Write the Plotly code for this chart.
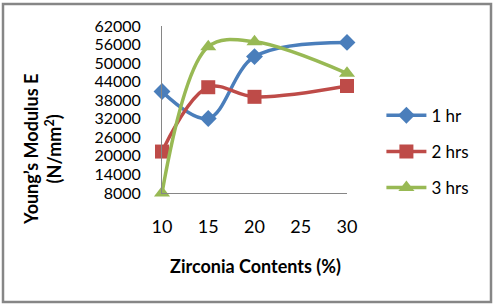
import plotly.graph_objects as go

zirconia = [10, 15, 20, 30]
hr1 = [40800, 32100, 52100, 56700]
hrs2 = [21400, 42200, 39100, 42600]
hrs3 = [8000, 55300, 56900, 46700]
series_names = ["1 hr", "2 hrs", "3 hrs"]
x_ticks = [10, 15, 20, 25, 30]
y_ticks = [8000, 14000, 20000, 26000, 32000, 38000, 44000, 50000, 56000, 62000]

colors = ["#4A7EBB", "#BE4B48", "#98B954"]
symbols = ["diamond", "square", "triangle-up"]
sizes = [13, 14, 14]
FONT = "Lato, 'Open Sans', sans-serif"
FS = 18

fig = go.Figure()
for i, (name, vals) in enumerate(zip(series_names, [hr1, hrs2, hrs3])):
    fig.add_trace(go.Scatter(
        x=zirconia, y=vals, name=name, mode="lines+markers",
        line=dict(color=colors[i], width=3.5, shape="spline", smoothing=1.0),
        marker=dict(symbol=symbols[i], size=sizes[i], color=colors[i]),
        cliponaxis=False, legendgroup=name,
    ))

fig.update_layout(
    width=495, height=306, autosize=False,
    margin=dict(l=162, r=148, t=26, b=113),
    paper_bgcolor="white", plot_bgcolor="white",
    font=dict(family=FONT, size=FS, color="black"),
    showlegend=True,
    legend=dict(x=1.186, y=0.247, xanchor="left", yanchor="middle",
                font=dict(family=FONT, size=17), tracegroupgap=11,
                bgcolor="rgba(0,0,0,0)", itemwidth=40, borderwidth=0),
    xaxis=dict(range=[10, 30], tickvals=x_ticks, ticktext=[str(v) for v in x_ticks],
               showgrid=False, zeroline=False, showline=True, linecolor="#868686", linewidth=1,
               ticks="outside", ticklen=17, tickcolor="rgba(0,0,0,0)",
               tickfont=dict(family=FONT, size=FS)),
    yaxis=dict(range=[8000, 62000], tickvals=y_ticks, ticktext=[str(v) for v in y_ticks],
               showgrid=False, zeroline=False, showline=True, linecolor="#868686", linewidth=1,
               ticks="outside", ticklen=17, tickcolor="rgba(0,0,0,0)",
               tickfont=dict(family=FONT, size=16)),
    shapes=[dict(type="rect", xref="paper", yref="paper",
                 x0=-159/185, x1=329/185, y0=-109/167, y1=(193-4)/167,
                 line=dict(color="#868686", width=2.5), fillcolor="rgba(0,0,0,0)", layer="below")],
    annotations=[
        dict(text="<b>Young’s Modulus E<br>(N/mm<sup>2</sup>)</b>", xref="paper", yref="paper",
             x=(42-162)/185, y=(193-150)/167, textangle=-90, showarrow=False,
             font=dict(family=FONT, size=FS), xanchor="center", yanchor="middle"),
        dict(text="<b>Zirconia Contents (%)</b>", xref="paper", yref="paper",
             x=(255-162)/185, y=(193-266)/167, showarrow=False,
             font=dict(family=FONT, size=FS), xanchor="center", yanchor="middle"),
    ],
)

fig.write_html("out.html", config={"displayModeBar": False},
               post_script="document.body.style.margin='0';document.body.style.padding='0';")
